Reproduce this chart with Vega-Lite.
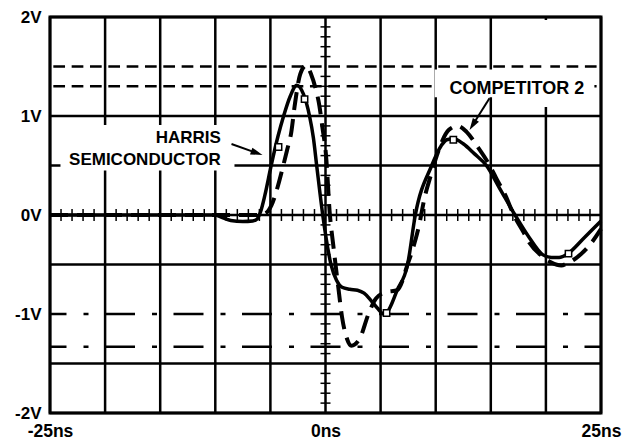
{
  "$schema": "https://vega.github.io/schema/vega-lite/v6.json",
  "width": 551,
  "height": 396,
  "autosize": {"type": "none"},
  "padding": {"left": 50, "top": 17, "right": 34, "bottom": 27},
  "background": "white",
  "config": {"view": {"stroke": "black", "strokeWidth": 3}, "font": "Liberation Sans"},
  "resolve": {"axis": {"x": "independent", "y": "independent"}},
  "datasets": {
    "vgrid": [{"x": -25}, {"x": -20}, {"x": -15}, {"x": -10}, {"x": -5}, {"x": 0}, {"x": 5}, {"x": 10}, {"x": 15}, {"x": 20}, {"x": 25}],
    "hgrid": [{"y": 2}, {"y": 1}, {"y": 0.5}, {"y": 0}, {"y": -0.5}, {"y": -1.5}, {"y": -2}],
    "dashref": [{"y": 1.5}, {"y": 1.3}],
    "dashdotref": [{"y": -1}, {"y": -1.33}],
    "boxes": [
      {"x": -24.05, "x2": -8.26, "y": 0.45, "y2": 0.91},
      {"x": 9.9, "x2": 24.4, "y": 1.19, "y2": 1.47},
      {"x": 19.6, "x2": 20.4, "y": 1.09, "y2": 1.97}
    ],
    "xticks": [{"x": -24}, {"x": -23}, {"x": -22}, {"x": -21}, {"x": -19}, {"x": -18}, {"x": -17}, {"x": -16}, {"x": -14}, {"x": -13}, {"x": -12}, {"x": -11}, {"x": -9}, {"x": -8}, {"x": -7}, {"x": -6}, {"x": -4}, {"x": -3}, {"x": -2}, {"x": -1}, {"x": 1}, {"x": 2}, {"x": 3}, {"x": 4}, {"x": 6}, {"x": 7}, {"x": 8}, {"x": 9}, {"x": 11}, {"x": 12}, {"x": 13}, {"x": 14}, {"x": 16}, {"x": 17}, {"x": 18}, {"x": 19}, {"x": 21}, {"x": 22}, {"x": 23}, {"x": 24}],
    "yticks": [{"y": -1.9}, {"y": -1.8}, {"y": -1.7}, {"y": -1.6}, {"y": -1.4}, {"y": -1.3}, {"y": -1.2}, {"y": -1.1}, {"y": -0.9}, {"y": -0.8}, {"y": -0.7}, {"y": -0.6}, {"y": -0.4}, {"y": -0.3}, {"y": -0.2}, {"y": -0.1}, {"y": 0.1}, {"y": 0.2}, {"y": 0.3}, {"y": 0.4}, {"y": 0.6}, {"y": 0.7}, {"y": 0.8}, {"y": 0.9}, {"y": 1.1}, {"y": 1.2}, {"y": 1.3}, {"y": 1.4}, {"y": 1.6}, {"y": 1.7}, {"y": 1.8}, {"y": 1.9}],
    "harris": [
      {"x": -25, "y": 0}, {"x": -10, "y": 0}, {"x": -9.3, "y": -0.03}, {"x": -8.6, "y": -0.055}, {"x": -7.5, "y": -0.065},
      {"x": -6.6, "y": -0.06}, {"x": -6.2, "y": -0.04}, {"x": -5.9, "y": 0.03}, {"x": -5.5, "y": 0.2}, {"x": -4.93, "y": 0.5},
      {"x": -4.3, "y": 0.8}, {"x": -3.8, "y": 1.0}, {"x": -3.2, "y": 1.2}, {"x": -2.6, "y": 1.31}, {"x": -2.0, "y": 1.22},
      {"x": -1.45, "y": 1.0}, {"x": -1.1, "y": 0.78}, {"x": -0.8, "y": 0.5}, {"x": -0.25, "y": 0.0}, {"x": 0.5, "y": -0.5},
      {"x": 1.0, "y": -0.66}, {"x": 1.5, "y": -0.73}, {"x": 2.2, "y": -0.75}, {"x": 2.9, "y": -0.76}, {"x": 3.5, "y": -0.79},
      {"x": 4.1, "y": -0.86}, {"x": 4.7, "y": -0.94}, {"x": 5.3, "y": -1.0}, {"x": 5.6, "y": -0.98}, {"x": 6.5, "y": -0.76},
      {"x": 7.45, "y": -0.5}, {"x": 8.15, "y": 0.0}, {"x": 9.6, "y": 0.49}, {"x": 10.5, "y": 0.7}, {"x": 11.0, "y": 0.76},
      {"x": 11.6, "y": 0.77}, {"x": 12.5, "y": 0.72}, {"x": 13.5, "y": 0.62}, {"x": 14.6, "y": 0.5}, {"x": 15.8, "y": 0.27},
      {"x": 17.2, "y": 0.0}, {"x": 18.5, "y": -0.23}, {"x": 19.7, "y": -0.4}, {"x": 20.5, "y": -0.43}, {"x": 21.2, "y": -0.43},
      {"x": 22.0, "y": -0.39}, {"x": 23.3, "y": -0.25}, {"x": 24.2, "y": -0.15}, {"x": 25.0, "y": -0.06}
    ],
    "comp": [
      {"x": -25, "y": 0}, {"x": -6.0, "y": 0}, {"x": -5.4, "y": 0.02}, {"x": -4.9, "y": 0.1}, {"x": -4.3, "y": 0.3},
      {"x": -3.9, "y": 0.47}, {"x": -3.5, "y": 0.65}, {"x": -3.1, "y": 0.84}, {"x": -2.8, "y": 1.1}, {"x": -2.3, "y": 1.42},
      {"x": -1.75, "y": 1.51}, {"x": -1.3, "y": 1.42}, {"x": -0.9, "y": 1.28}, {"x": -0.55, "y": 1.1}, {"x": -0.3, "y": 0.9},
      {"x": 0.05, "y": 0.6}, {"x": 0.4, "y": 0.0}, {"x": 0.7, "y": -0.3}, {"x": 1.15, "y": -0.72}, {"x": 1.5, "y": -1.03},
      {"x": 1.95, "y": -1.25}, {"x": 2.35, "y": -1.32}, {"x": 3.1, "y": -1.25}, {"x": 3.9, "y": -1.0}, {"x": 4.6, "y": -0.84},
      {"x": 5.5, "y": -0.78}, {"x": 6.5, "y": -0.76}, {"x": 7.0, "y": -0.66}, {"x": 7.3, "y": -0.55}, {"x": 7.9, "y": -0.35},
      {"x": 8.5, "y": -0.1}, {"x": 9.0, "y": 0.18}, {"x": 9.5, "y": 0.38}, {"x": 10.1, "y": 0.6}, {"x": 10.6, "y": 0.75},
      {"x": 11.2, "y": 0.86}, {"x": 12.0, "y": 0.9}, {"x": 12.8, "y": 0.84}, {"x": 13.8, "y": 0.69}, {"x": 14.9, "y": 0.5},
      {"x": 15.5, "y": 0.37}, {"x": 16.4, "y": 0.18}, {"x": 17.0, "y": 0.02}, {"x": 18.0, "y": -0.18}, {"x": 18.5, "y": -0.28},
      {"x": 19.7, "y": -0.42}, {"x": 20.5, "y": -0.48}, {"x": 21.4, "y": -0.51}, {"x": 21.9, "y": -0.49}, {"x": 22.8, "y": -0.43},
      {"x": 24.0, "y": -0.3}, {"x": 25.0, "y": -0.14}
    ],
    "markers": [
      {"x": -4.26, "y": 0.687}, {"x": -1.9, "y": 1.17}, {"x": 5.54, "y": -0.99}, {"x": 11.6, "y": 0.76}, {"x": 22.05, "y": -0.39}
    ],
    "harrislabel": [
      {"label": "HARRIS", "x": -9.5, "y": 0.73},
      {"label": "SEMICONDUCTOR", "x": -9.5, "y": 0.505}
    ],
    "complabel": [{"label": "COMPETITOR 2", "x": 11.25, "y": 1.222}],
    "arrows": [
      {"x": -8.53, "y": 0.717, "x2": -6.23, "y2": 0.626},
      {"x": 14.88, "y": 1.18, "x2": 13.36, "y2": 0.91}
    ],
    "heads": [
      {"x": -6.23, "y": 0.626, "angle": 109.5},
      {"x": 13.36, "y": 0.91, "angle": 212}
    ]
  },
  "layer": [
    {
      "data": {"name": "vgrid"},
      "mark": {"type": "rule", "stroke": "black", "strokeWidth": 2.5},
      "encoding": {
        "x": {"field": "x", "type": "quantitative", "scale": {"domain": [-25, 25], "nice": false, "zero": false},
              "axis": {"values": [-25, 0, 25], "labelExpr": "datum.value + 'ns'", "title": null, "ticks": false, "domain": false, "grid": false,
                       "labelFlush": false, "labelFont": "Liberation Sans", "labelFontWeight": "bold", "labelFontSize": 17.5, "labelColor": "black", "labelPadding": 9}},
        "y": {"datum": -2, "type": "quantitative", "scale": {"domain": [-2, 2], "nice": false, "zero": false}, "axis": null},
        "y2": {"datum": 2}
      }
    },
    {
      "data": {"name": "hgrid"},
      "mark": {"type": "rule", "stroke": "black", "strokeWidth": 2.5},
      "encoding": {
        "y": {"field": "y", "type": "quantitative", "scale": {"domain": [-2, 2], "nice": false, "zero": false},
              "axis": {"values": [-2, -1, 0, 1, 2], "labelExpr": "datum.value + 'V'", "title": null, "ticks": false, "domain": false, "grid": false,
                       "labelFlush": false, "labelFont": "Liberation Sans", "labelFontWeight": "bold", "labelFontSize": 17, "labelColor": "black", "labelPadding": 9}},
        "x": {"datum": -25, "type": "quantitative", "scale": {"domain": [-25, 25], "nice": false, "zero": false}, "axis": null},
        "x2": {"datum": 25}
      }
    },
    {
      "data": {"name": "dashref"},
      "mark": {"type": "rule", "stroke": "black", "strokeWidth": 2.5, "strokeDash": [11.7, 6.63], "strokeDashOffset": 15},
      "encoding": {
        "y": {"field": "y", "type": "quantitative", "axis": null},
        "x": {"datum": -25, "type": "quantitative", "axis": null},
        "x2": {"datum": 25}
      }
    },
    {
      "data": {"name": "dashdotref"},
      "mark": {"type": "rule", "stroke": "black", "strokeWidth": 2.5, "strokeDash": [30, 17, 5, 16.5], "strokeDashOffset": 13.5},
      "encoding": {
        "y": {"field": "y", "type": "quantitative", "axis": null},
        "x": {"datum": -25, "type": "quantitative", "axis": null},
        "x2": {"datum": 25}
      }
    },
    {
      "data": {"name": "xticks"},
      "mark": {"type": "tick", "orient": "vertical", "color": "black", "size": 12, "thickness": 1.5, "opacity": 1},
      "encoding": {
        "x": {"field": "x", "type": "quantitative", "axis": null},
        "y": {"datum": 0, "type": "quantitative", "axis": null}
      }
    },
    {
      "data": {"name": "yticks"},
      "mark": {"type": "tick", "orient": "horizontal", "color": "black", "size": 10, "thickness": 1.5, "opacity": 1},
      "encoding": {
        "y": {"field": "y", "type": "quantitative", "axis": null},
        "x": {"datum": 0, "type": "quantitative", "axis": null}
      }
    },
    {
      "data": {"name": "boxes"},
      "mark": {"type": "rect", "fill": "white", "stroke": null},
      "encoding": {
        "x": {"field": "x", "type": "quantitative", "axis": null},
        "x2": {"field": "x2"},
        "y": {"field": "y", "type": "quantitative", "axis": null},
        "y2": {"field": "y2"}
      }
    },
    {
      "data": {"name": "harris"},
      "mark": {"type": "line", "color": "black", "strokeWidth": 3.5, "interpolate": "monotone"},
      "encoding": {
        "x": {"field": "x", "type": "quantitative", "axis": null},
        "y": {"field": "y", "type": "quantitative", "axis": null}
      }
    },
    {
      "data": {"name": "comp"},
      "mark": {"type": "line", "color": "black", "strokeWidth": 4, "interpolate": "monotone", "strokeDash": [18, 9]},
      "encoding": {
        "x": {"field": "x", "type": "quantitative", "axis": null},
        "y": {"field": "y", "type": "quantitative", "axis": null}
      }
    },
    {
      "data": {"name": "markers"},
      "mark": {"type": "point", "shape": "square", "filled": false, "fill": "white", "fillOpacity": 1, "stroke": "black", "strokeWidth": 1.5, "size": 40, "opacity": 1},
      "encoding": {
        "x": {"field": "x", "type": "quantitative", "axis": null},
        "y": {"field": "y", "type": "quantitative", "axis": null}
      }
    },
    {
      "data": {"name": "arrows"},
      "mark": {"type": "rule", "stroke": "black", "strokeWidth": 2},
      "encoding": {
        "x": {"field": "x", "type": "quantitative", "axis": null},
        "y": {"field": "y", "type": "quantitative", "axis": null},
        "x2": {"field": "x2"},
        "y2": {"field": "y2"}
      }
    },
    {
      "data": {"name": "heads"},
      "mark": {"type": "point", "shape": "M0,-1L-0.6,1L0.6,1Z", "filled": true, "color": "black", "size": 144, "opacity": 1},
      "encoding": {
        "x": {"field": "x", "type": "quantitative", "axis": null},
        "y": {"field": "y", "type": "quantitative", "axis": null},
        "angle": {"field": "angle", "type": "quantitative", "scale": null}
      }
    },
    {
      "data": {"name": "harrislabel"},
      "mark": {"type": "text", "align": "right", "baseline": "alphabetic", "font": "Liberation Sans", "fontWeight": "bold", "fontSize": 17, "color": "black"},
      "encoding": {
        "x": {"field": "x", "type": "quantitative", "axis": null},
        "y": {"field": "y", "type": "quantitative", "axis": null},
        "text": {"field": "label"}
      }
    },
    {
      "data": {"name": "complabel"},
      "mark": {"type": "text", "align": "left", "baseline": "alphabetic", "font": "Liberation Sans", "fontWeight": "bold", "fontSize": 18, "color": "black"},
      "encoding": {
        "x": {"field": "x", "type": "quantitative", "axis": null},
        "y": {"field": "y", "type": "quantitative", "axis": null},
        "text": {"field": "label"}
      }
    }
  ]
}
